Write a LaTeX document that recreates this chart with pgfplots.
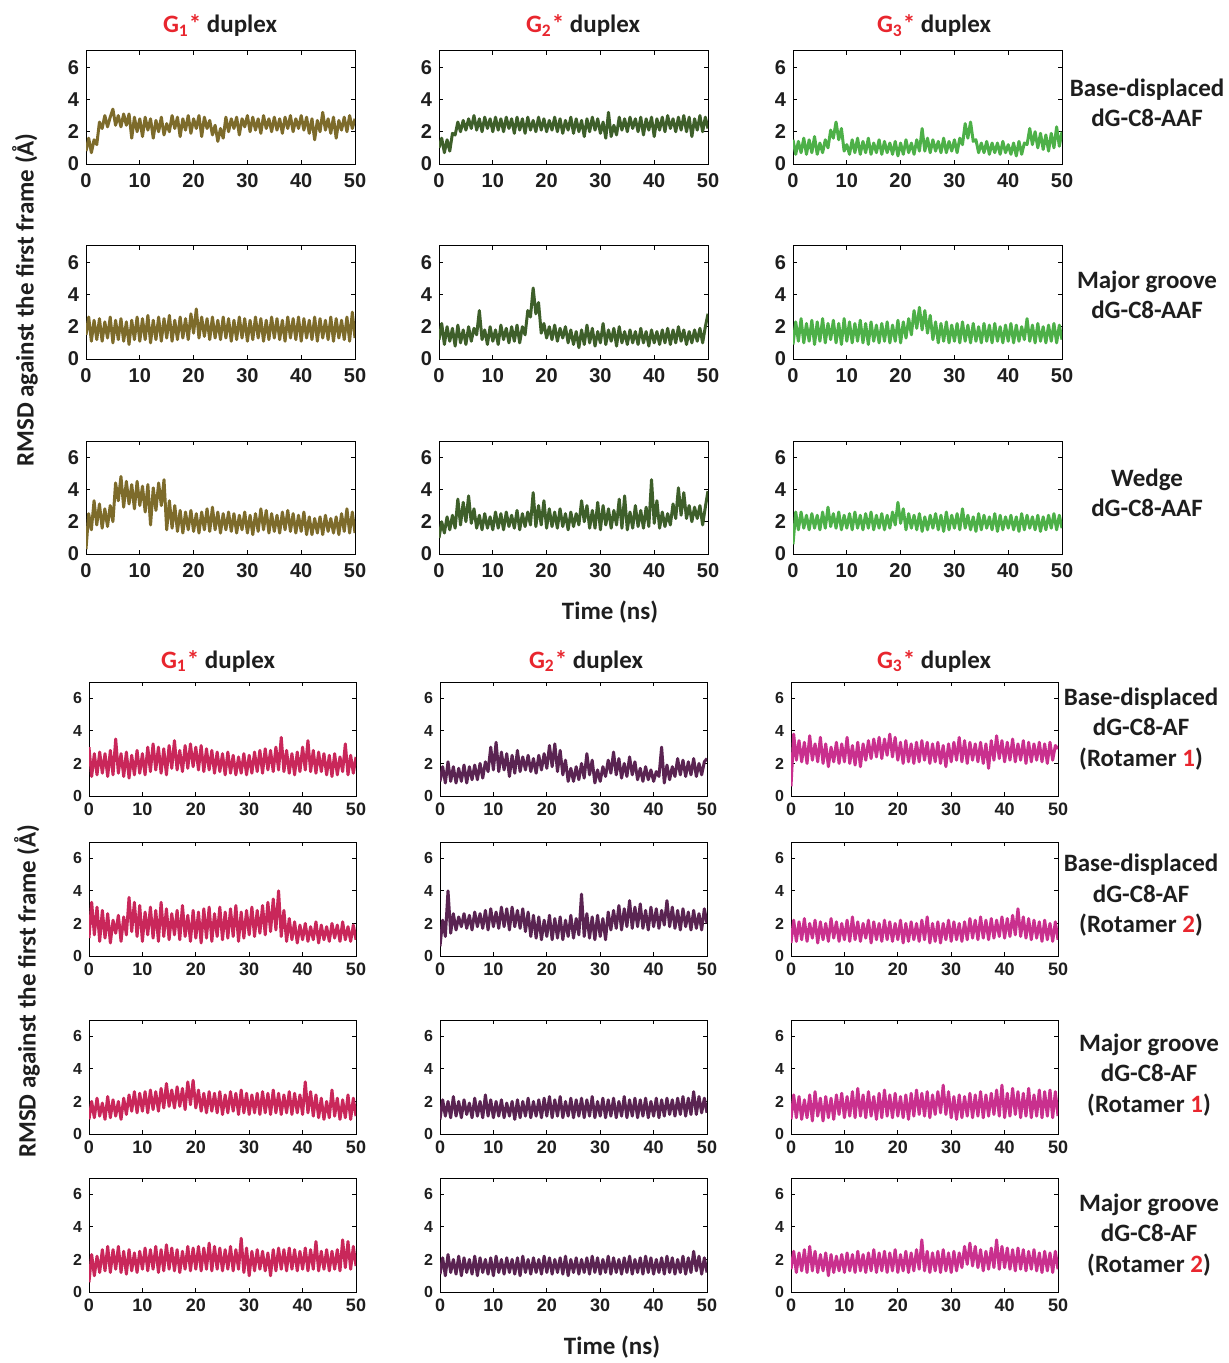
\documentclass[border=0pt]{standalone}
\usepackage{pgfplots}
\pgfplotsset{compat=1.18}
\usepackage{pgfplotstable}
\usepackage{fontspec}
\setmainfont{Carlito}
\newfontfamily\tickfont{Liberation Sans}
\definecolor{colA}{RGB}{125,107,43}
\definecolor{colB}{RGB}{62,95,42}
\definecolor{colC}{RGB}{77,176,72}
\definecolor{colD}{RGB}{201,39,90}
\definecolor{colE}{RGB}{90,36,82}
\definecolor{colF}{RGB}{201,48,142}
\definecolor{gred}{RGB}{232,38,46}
\definecolor{txt}{RGB}{30,30,30}

% ---- data (RMSD, one value every 0.5 ns from 0 to 50 ns) ----
\pgfplotstableread[header=false,row sep=\\]{0.8\\1.6\\0.7\\1.5\\1.2\\2.6\\2.2\\3.0\\2.3\\2.9\\3.4\\2.4\\3.0\\2.3\\3.1\\2.4\\3.1\\1.6\\2.9\\2.0\\2.8\\1.7\\2.9\\2.1\\2.8\\1.6\\2.7\\2.0\\2.9\\1.8\\2.5\\2.0\\3.0\\2.2\\2.9\\1.7\\2.8\\2.1\\3.0\\1.9\\2.8\\2.2\\3.0\\1.7\\2.9\\2.2\\2.7\\1.8\\2.4\\1.4\\2.2\\1.6\\2.9\\2.0\\2.8\\2.2\\2.9\\1.8\\2.8\\2.3\\3.0\\2.0\\2.9\\2.1\\2.8\\1.9\\3.0\\2.2\\2.8\\2.0\\2.9\\2.1\\2.8\\1.9\\2.9\\2.2\\3.0\\2.0\\2.8\\2.2\\3.0\\2.1\\2.9\\1.9\\2.8\\1.5\\2.7\\2.0\\3.2\\2.1\\2.8\\1.9\\2.9\\1.6\\2.7\\2.1\\2.9\\2.0\\3.0\\2.2\\2.8\\}\TA
\pgfplotstableread[header=false,row sep=\\]{1.0\\1.6\\0.7\\1.5\\0.8\\1.9\\1.8\\2.6\\2.0\\2.7\\2.1\\2.8\\2.2\\3.0\\2.1\\2.8\\2.0\\2.9\\2.2\\2.8\\2.0\\2.9\\2.1\\2.8\\2.0\\2.9\\2.2\\2.8\\1.9\\2.9\\2.1\\2.8\\1.9\\2.9\\2.1\\2.7\\2.0\\2.9\\2.1\\2.8\\2.0\\2.7\\2.1\\2.9\\2.0\\2.8\\1.9\\2.7\\2.1\\2.9\\1.9\\2.8\\2.0\\2.7\\1.7\\2.8\\2.0\\2.9\\2.1\\2.8\\1.9\\2.6\\1.6\\3.2\\1.7\\2.4\\1.8\\2.9\\2.1\\2.8\\2.0\\2.9\\2.2\\2.8\\2.0\\2.9\\1.8\\2.8\\2.1\\2.9\\1.7\\2.8\\2.1\\2.9\\2.0\\3.0\\2.2\\2.8\\2.0\\2.9\\2.1\\3.0\\2.0\\2.9\\1.7\\2.8\\2.1\\3.0\\2.0\\2.9\\2.2\\}\TB
\pgfplotstableread[header=false,row sep=\\]{1.5\\0.6\\1.4\\0.7\\1.6\\0.6\\1.5\\0.7\\1.7\\0.6\\1.3\\0.7\\1.5\\1.0\\2.1\\1.6\\2.6\\1.5\\2.2\\0.8\\1.2\\0.6\\1.5\\0.7\\1.6\\0.6\\1.4\\0.7\\1.6\\0.6\\1.3\\0.7\\1.5\\0.6\\1.4\\0.7\\1.3\\0.6\\1.4\\0.5\\1.3\\0.6\\1.5\\0.7\\1.3\\0.6\\1.5\\0.8\\2.2\\0.8\\1.6\\0.7\\1.5\\0.8\\1.4\\0.7\\1.6\\0.7\\1.4\\0.8\\1.5\\0.7\\1.6\\1.2\\2.5\\1.6\\2.6\\1.4\\1.5\\0.7\\1.3\\0.7\\1.4\\0.6\\1.3\\0.7\\1.3\\0.6\\1.4\\0.7\\1.2\\0.6\\1.3\\0.5\\1.4\\0.6\\1.3\\1.2\\2.2\\1.2\\2.0\\1.0\\1.9\\0.9\\1.8\\0.8\\1.9\\1.0\\2.3\\1.1\\2.0\\}\TC
\pgfplotstableread[header=false,row sep=\\]{1.5\\2.6\\1.1\\2.4\\1.2\\2.5\\1.1\\2.3\\1.3\\2.6\\1.0\\2.4\\1.2\\2.5\\1.1\\2.3\\0.9\\2.4\\1.2\\2.6\\1.1\\2.5\\1.2\\2.7\\1.0\\2.4\\1.2\\2.6\\1.1\\2.5\\1.3\\2.7\\1.1\\2.4\\1.2\\2.6\\1.3\\2.5\\1.2\\2.8\\1.6\\3.1\\1.3\\2.6\\1.4\\2.5\\1.2\\2.6\\1.3\\2.4\\1.2\\2.6\\1.3\\2.5\\1.1\\2.4\\1.2\\2.6\\1.3\\2.5\\1.1\\2.4\\1.2\\2.6\\1.3\\2.5\\1.1\\2.4\\1.2\\2.6\\1.3\\2.5\\1.2\\2.4\\1.1\\2.6\\1.3\\2.5\\1.2\\2.6\\1.1\\2.5\\1.3\\2.4\\1.2\\2.6\\1.1\\2.5\\1.3\\2.4\\1.2\\2.6\\1.1\\2.5\\1.3\\2.4\\1.2\\2.6\\1.1\\2.9\\1.3\\}\TD
\pgfplotstableread[header=false,row sep=\\]{1.2\\2.2\\0.9\\2.0\\1.1\\1.9\\0.8\\2.1\\1.0\\1.8\\0.9\\2.0\\1.1\\1.9\\1.5\\3.0\\1.2\\1.8\\0.9\\2.0\\1.1\\1.8\\0.9\\2.1\\1.2\\1.9\\1.0\\2.0\\1.1\\2.1\\1.0\\2.0\\1.5\\3.0\\2.6\\4.4\\2.8\\3.5\\1.6\\2.2\\1.3\\2.0\\1.2\\2.1\\1.1\\1.9\\1.3\\2.0\\1.0\\1.8\\0.9\\1.7\\0.7\\1.8\\0.9\\2.1\\1.0\\1.9\\0.8\\1.7\\1.0\\2.2\\0.9\\1.8\\1.1\\1.9\\0.8\\2.0\\1.0\\1.7\\0.9\\1.8\\1.0\\1.7\\0.9\\1.9\\1.0\\1.7\\0.8\\1.8\\1.0\\1.7\\0.9\\1.8\\1.0\\1.9\\0.9\\1.8\\1.0\\2.0\\1.1\\1.8\\0.9\\1.7\\1.0\\1.8\\1.1\\1.9\\1.0\\2.0\\2.8\\}\TE
\pgfplotstableread[header=false,row sep=\\]{0.9\\2.3\\1.1\\2.5\\1.0\\2.2\\1.1\\2.4\\0.9\\2.3\\1.1\\2.5\\1.0\\2.2\\1.2\\2.4\\1.0\\2.2\\0.9\\2.5\\1.1\\2.3\\1.0\\2.2\\1.1\\2.4\\1.0\\2.2\\0.9\\2.3\\1.1\\2.1\\1.0\\2.2\\1.1\\2.3\\1.0\\2.1\\1.1\\2.4\\1.0\\2.3\\1.3\\2.5\\1.5\\3.0\\1.9\\3.2\\1.8\\3.0\\1.6\\2.7\\1.2\\2.3\\1.0\\2.2\\1.1\\2.3\\1.0\\2.1\\1.1\\2.2\\1.0\\2.3\\1.1\\2.1\\1.0\\2.2\\1.1\\2.0\\1.0\\2.2\\1.1\\2.1\\1.0\\2.2\\1.1\\2.0\\1.0\\2.1\\1.1\\2.2\\1.0\\2.1\\1.1\\2.0\\1.2\\2.5\\1.1\\2.1\\1.0\\2.2\\1.1\\2.0\\1.0\\2.1\\1.1\\2.2\\1.0\\2.1\\1.2\\}\TF
\pgfplotstableread[header=false,row sep=\\]{0.3\\2.5\\1.5\\3.3\\1.8\\3.1\\1.6\\2.8\\1.7\\3.0\\2.0\\4.4\\3.3\\4.8\\2.9\\4.5\\3.1\\4.3\\2.8\\4.5\\3.0\\4.2\\2.6\\4.3\\1.8\\4.1\\2.7\\4.4\\3.0\\4.6\\1.5\\3.3\\1.6\\3.0\\1.4\\2.7\\1.3\\2.6\\1.5\\2.7\\1.4\\2.5\\1.3\\2.6\\1.5\\2.8\\1.4\\2.9\\1.5\\2.6\\1.3\\2.5\\1.5\\2.6\\1.4\\2.5\\1.3\\2.4\\1.5\\2.6\\1.3\\2.4\\1.2\\2.5\\1.4\\2.8\\1.5\\2.7\\1.3\\2.5\\1.4\\2.4\\1.3\\2.6\\1.5\\2.7\\1.4\\2.5\\1.3\\2.4\\1.4\\2.6\\1.2\\2.3\\1.2\\2.2\\1.3\\2.3\\1.2\\2.4\\1.4\\2.2\\1.3\\2.3\\1.2\\2.5\\1.4\\2.8\\1.3\\2.6\\1.3\\}\TG
\pgfplotstableread[header=false,row sep=\\]{1.0\\2.0\\1.3\\2.3\\1.5\\2.4\\1.6\\3.4\\1.8\\3.2\\2.0\\3.6\\1.9\\2.8\\1.6\\2.4\\1.5\\2.5\\1.6\\2.3\\1.5\\2.6\\1.6\\2.5\\1.5\\2.6\\1.7\\2.4\\1.6\\2.7\\1.5\\2.5\\1.7\\2.6\\1.8\\3.8\\1.7\\3.0\\1.8\\3.3\\1.6\\2.8\\1.7\\2.6\\1.6\\2.8\\1.7\\2.5\\1.5\\2.6\\1.7\\2.5\\1.8\\3.3\\2.0\\3.0\\1.6\\2.7\\1.6\\3.2\\1.5\\3.0\\1.8\\2.8\\1.6\\2.7\\1.8\\3.4\\1.6\\3.6\\1.5\\2.6\\1.6\\3.0\\1.7\\2.7\\1.6\\2.9\\1.7\\4.6\\1.9\\3.3\\1.6\\2.6\\1.7\\2.5\\1.8\\3.1\\2.2\\4.1\\2.4\\3.8\\2.2\\3.0\\2.0\\2.9\\2.2\\3.0\\1.8\\2.9\\3.9\\}\TH
\pgfplotstableread[header=false,row sep=\\]{0.6\\2.6\\1.5\\2.6\\1.6\\2.4\\1.5\\2.5\\1.6\\2.4\\1.5\\2.6\\1.6\\2.9\\1.7\\2.5\\1.6\\2.6\\1.5\\2.4\\1.6\\2.5\\1.5\\2.6\\1.6\\2.4\\1.5\\2.5\\1.6\\2.6\\1.5\\2.4\\1.6\\2.5\\1.5\\2.4\\1.6\\2.6\\1.8\\3.2\\1.9\\2.8\\1.5\\2.5\\1.6\\2.4\\1.5\\2.5\\1.4\\2.3\\1.5\\2.4\\1.6\\2.5\\1.5\\2.4\\1.4\\2.6\\1.5\\2.4\\1.6\\2.5\\1.5\\2.8\\1.6\\2.4\\1.5\\2.3\\1.4\\2.5\\1.5\\2.4\\1.6\\2.3\\1.5\\2.5\\1.4\\2.4\\1.5\\2.3\\1.6\\2.4\\1.5\\2.3\\1.4\\2.5\\1.5\\2.4\\1.6\\2.3\\1.5\\2.4\\1.4\\2.3\\1.5\\2.4\\1.6\\2.5\\1.5\\2.4\\1.6\\}\TI
\pgfplotstableread[header=false,row sep=\\]{3.0\\1.2\\2.6\\1.3\\2.7\\1.4\\2.6\\1.2\\2.8\\1.3\\3.5\\1.4\\2.6\\1.2\\2.7\\1.1\\2.5\\1.3\\2.8\\1.4\\2.6\\1.3\\3.0\\1.5\\3.2\\1.6\\3.0\\1.4\\2.9\\1.3\\3.1\\1.7\\3.4\\1.6\\2.8\\1.5\\3.1\\1.7\\3.2\\1.8\\3.0\\1.6\\3.1\\1.5\\2.9\\1.6\\2.8\\1.4\\2.7\\1.5\\2.6\\1.3\\2.7\\1.4\\2.5\\1.3\\2.4\\1.4\\2.6\\1.3\\2.5\\1.4\\2.7\\1.5\\2.8\\1.4\\2.9\\1.6\\2.8\\1.5\\3.0\\1.6\\3.6\\1.5\\2.8\\1.4\\2.6\\1.3\\2.7\\1.5\\3.0\\1.6\\3.4\\1.5\\2.8\\1.4\\2.7\\1.5\\2.6\\1.3\\2.5\\1.2\\2.6\\1.3\\2.4\\1.5\\3.2\\1.3\\2.5\\1.4\\2.4\\}\BA
\pgfplotstableread[header=false,row sep=\\]{0.9\\1.8\\0.8\\2.1\\0.9\\1.8\\0.8\\1.7\\0.9\\1.9\\0.8\\1.8\\1.0\\1.9\\1.0\\2.0\\1.1\\2.1\\1.5\\3.0\\1.6\\3.3\\1.5\\2.7\\1.6\\2.6\\1.2\\2.5\\1.4\\2.8\\1.5\\2.4\\1.6\\2.5\\1.5\\2.3\\1.4\\2.5\\1.6\\2.6\\1.7\\3.1\\1.8\\3.2\\1.5\\2.8\\1.3\\2.2\\0.9\\1.7\\0.9\\1.8\\1.0\\2.0\\1.1\\2.6\\1.3\\2.2\\0.8\\1.6\\0.9\\1.8\\1.2\\2.2\\1.4\\2.7\\1.3\\2.3\\1.1\\2.0\\1.2\\2.4\\1.3\\2.1\\1.0\\1.7\\0.9\\1.8\\1.0\\1.6\\0.9\\1.5\\1.2\\3.0\\0.8\\1.9\\1.0\\1.8\\1.2\\2.3\\1.3\\2.2\\1.2\\2.1\\1.3\\2.3\\1.2\\2.0\\1.3\\2.1\\2.3\\}\BB
\pgfplotstableread[header=false,row sep=\\]{0.6\\3.8\\2.2\\3.4\\2.1\\3.3\\2.0\\3.7\\2.2\\3.2\\2.1\\3.6\\2.0\\3.2\\1.8\\3.0\\2.1\\3.3\\2.0\\3.2\\2.1\\3.6\\2.0\\3.1\\1.9\\3.3\\1.8\\3.2\\2.2\\3.4\\2.3\\3.5\\2.4\\3.6\\2.3\\3.5\\2.5\\3.8\\2.4\\3.6\\2.2\\3.3\\2.0\\3.4\\2.1\\3.2\\2.0\\3.3\\2.1\\3.4\\2.2\\3.3\\2.0\\3.2\\2.1\\3.3\\2.0\\3.1\\1.8\\3.2\\2.1\\3.3\\2.2\\3.6\\2.1\\3.4\\2.0\\3.3\\2.2\\3.2\\2.1\\3.3\\2.0\\3.2\\1.7\\3.4\\2.2\\3.7\\2.3\\3.4\\2.1\\3.3\\2.2\\3.5\\2.1\\3.2\\2.2\\3.4\\2.0\\3.3\\2.1\\3.2\\2.2\\3.3\\2.1\\3.2\\2.0\\3.3\\2.2\\3.1\\2.9\\}\BC
\pgfplotstableread[header=false,row sep=\\]{1.1\\3.3\\1.3\\3.0\\0.9\\2.8\\1.1\\2.6\\0.8\\2.2\\1.4\\2.5\\0.9\\2.4\\1.3\\3.6\\1.5\\3.3\\1.2\\3.1\\0.9\\2.7\\1.3\\3.0\\1.1\\2.8\\0.9\\3.3\\1.2\\2.9\\1.0\\2.6\\1.3\\2.8\\1.0\\3.1\\1.2\\2.5\\0.9\\2.8\\1.1\\2.7\\0.8\\2.9\\1.1\\3.0\\0.9\\2.6\\1.2\\3.0\\1.0\\2.7\\1.1\\2.9\\1.2\\3.1\\0.9\\2.7\\1.1\\2.8\\1.3\\3.0\\1.2\\2.8\\1.4\\3.1\\1.3\\3.3\\1.5\\3.5\\1.6\\4.0\\1.2\\2.8\\0.9\\2.3\\1.0\\2.1\\0.8\\1.9\\1.0\\2.0\\0.9\\1.8\\1.0\\2.1\\0.8\\1.9\\1.0\\1.8\\0.9\\2.0\\1.1\\1.9\\0.9\\2.1\\1.0\\1.8\\0.9\\1.9\\1.0\\}\BD
\pgfplotstableread[header=false,row sep=\\]{0.6\\2.2\\1.2\\4.0\\1.4\\2.6\\1.6\\2.4\\1.8\\2.6\\1.7\\2.5\\1.6\\2.7\\1.8\\2.6\\1.7\\2.8\\1.6\\2.9\\1.8\\2.7\\1.7\\3.0\\1.8\\2.9\\1.6\\3.0\\1.8\\2.8\\1.7\\2.9\\1.5\\2.7\\1.2\\2.5\\1.1\\2.4\\1.0\\2.2\\1.2\\2.5\\1.0\\2.3\\1.1\\2.4\\1.0\\2.2\\1.2\\2.5\\1.1\\2.3\\1.3\\3.8\\1.2\\2.6\\1.1\\2.4\\1.0\\2.5\\1.2\\2.3\\1.0\\2.7\\1.6\\2.8\\1.7\\3.1\\1.6\\2.9\\1.8\\3.4\\1.7\\3.0\\1.8\\3.2\\1.7\\2.8\\1.6\\3.0\\1.8\\2.9\\1.7\\2.8\\1.9\\3.4\\1.8\\3.0\\1.7\\2.8\\1.6\\2.9\\1.8\\2.7\\1.6\\2.8\\1.7\\2.6\\1.6\\2.9\\2.0\\}\BE
\pgfplotstableread[header=false,row sep=\\]{0.8\\2.2\\0.9\\2.1\\1.0\\2.3\\0.9\\2.0\\1.1\\2.2\\0.8\\2.1\\1.0\\2.0\\0.9\\2.3\\1.1\\2.1\\0.9\\2.0\\1.0\\2.2\\0.9\\2.4\\1.0\\2.1\\0.9\\2.0\\1.1\\2.2\\0.8\\2.1\\1.0\\2.0\\0.9\\2.2\\1.0\\2.1\\0.9\\2.0\\1.0\\2.2\\0.8\\2.0\\0.9\\2.1\\1.0\\2.0\\0.9\\2.2\\1.0\\2.4\\0.8\\2.0\\0.9\\2.1\\0.8\\2.0\\1.0\\2.2\\0.9\\2.1\\1.0\\2.0\\0.9\\2.1\\1.0\\2.3\\1.1\\2.2\\1.0\\2.4\\1.1\\2.2\\1.0\\2.3\\1.1\\2.2\\1.2\\2.4\\1.1\\2.3\\1.2\\2.5\\1.3\\2.9\\1.2\\2.4\\1.1\\2.3\\1.0\\2.2\\1.1\\2.1\\0.9\\2.2\\1.0\\2.0\\0.9\\2.1\\1.0\\}\BF
\pgfplotstableread[header=false,row sep=\\]{0.9\\2.0\\1.0\\2.2\\1.1\\1.9\\0.9\\2.3\\1.0\\2.1\\1.1\\2.0\\0.9\\2.2\\1.2\\2.4\\1.4\\2.6\\1.3\\2.5\\1.4\\2.6\\1.3\\2.7\\1.5\\2.6\\1.4\\2.8\\1.6\\3.1\\1.7\\2.7\\1.6\\2.9\\1.7\\2.8\\1.5\\3.2\\1.8\\3.3\\1.6\\2.7\\1.4\\2.5\\1.3\\2.6\\1.4\\2.5\\1.3\\2.6\\1.2\\2.4\\1.3\\2.6\\1.4\\2.5\\1.2\\2.7\\1.3\\2.5\\1.2\\2.4\\1.3\\2.5\\1.2\\2.6\\1.3\\2.5\\1.2\\2.7\\1.3\\2.5\\1.2\\2.4\\1.3\\2.6\\1.2\\2.5\\1.3\\2.4\\1.2\\3.2\\1.3\\2.6\\1.1\\2.4\\1.0\\2.2\\0.9\\2.0\\1.0\\2.7\\1.1\\2.2\\0.9\\2.1\\1.0\\2.4\\0.9\\2.2\\1.1\\}\BG
\pgfplotstableread[header=false,row sep=\\]{0.9\\2.1\\1.1\\2.0\\1.0\\2.3\\1.1\\2.0\\1.0\\2.1\\1.2\\1.9\\1.0\\2.2\\1.1\\2.0\\1.0\\2.4\\1.1\\2.1\\1.0\\2.0\\1.1\\2.1\\1.0\\1.9\\1.1\\2.0\\0.9\\2.1\\1.0\\2.0\\1.1\\2.2\\1.0\\2.0\\1.1\\2.1\\1.0\\2.2\\1.1\\2.3\\1.0\\2.1\\1.1\\2.3\\1.0\\2.0\\1.1\\2.2\\1.0\\2.1\\1.1\\2.2\\1.0\\2.1\\1.1\\2.3\\1.0\\2.0\\1.1\\2.2\\1.0\\2.1\\1.1\\2.2\\1.0\\2.0\\1.1\\2.3\\1.0\\2.1\\1.1\\2.2\\1.0\\2.1\\1.1\\2.2\\1.0\\2.0\\1.1\\2.2\\1.0\\2.1\\1.1\\2.2\\1.2\\2.1\\1.1\\2.2\\1.2\\2.3\\1.1\\2.2\\1.2\\2.6\\1.2\\2.3\\1.3\\2.2\\1.3\\}\BH
\pgfplotstableread[header=false,row sep=\\]{0.9\\2.4\\1.0\\2.3\\0.9\\2.1\\1.0\\2.4\\0.8\\2.6\\1.1\\2.2\\0.8\\2.3\\1.0\\2.2\\0.9\\2.4\\1.2\\2.5\\1.0\\2.3\\1.1\\2.6\\1.0\\2.8\\1.1\\2.4\\1.0\\2.6\\1.1\\2.3\\0.9\\2.5\\1.0\\2.7\\1.1\\2.4\\1.0\\2.5\\1.1\\2.3\\1.0\\2.4\\0.9\\2.5\\1.1\\2.7\\1.2\\2.5\\1.1\\2.6\\1.0\\2.4\\1.2\\2.6\\1.3\\3.0\\1.2\\2.6\\1.0\\2.3\\0.9\\2.4\\1.0\\2.3\\1.1\\2.5\\1.0\\2.4\\1.1\\2.6\\1.0\\2.4\\1.1\\2.5\\1.2\\2.7\\1.1\\3.0\\1.0\\2.5\\1.1\\2.8\\1.2\\2.6\\1.0\\2.5\\1.1\\2.8\\1.0\\2.4\\1.1\\2.7\\1.0\\2.6\\1.1\\2.7\\1.0\\2.6\\1.1\\}\BI
\pgfplotstableread[header=false,row sep=\\]{0.6\\2.3\\1.0\\2.2\\1.2\\2.6\\1.3\\2.8\\1.2\\2.6\\1.4\\2.8\\1.2\\2.5\\1.1\\2.6\\1.3\\2.4\\1.2\\2.5\\1.4\\2.7\\1.3\\2.6\\1.4\\2.8\\1.2\\2.6\\1.3\\2.9\\1.4\\2.7\\1.3\\2.6\\1.2\\2.5\\1.4\\2.8\\1.3\\2.7\\1.4\\2.8\\1.3\\2.7\\1.4\\3.0\\1.3\\2.8\\1.4\\2.7\\1.3\\2.6\\1.4\\2.8\\1.3\\2.6\\1.4\\3.3\\1.2\\2.7\\1.0\\2.5\\1.3\\2.6\\1.4\\2.5\\1.3\\2.4\\1.0\\2.6\\1.3\\2.7\\1.4\\2.6\\1.3\\2.7\\1.4\\2.6\\1.3\\2.5\\1.4\\2.7\\1.3\\2.6\\1.4\\3.1\\1.3\\2.5\\1.4\\2.6\\1.3\\2.5\\1.4\\2.6\\1.3\\3.2\\1.5\\3.1\\1.4\\2.8\\1.6\\}\BJ
\pgfplotstableread[header=false,row sep=\\]{1.1\\2.1\\1.0\\2.3\\1.2\\2.0\\1.1\\2.2\\1.0\\2.1\\1.2\\2.0\\1.1\\2.2\\1.0\\2.1\\1.2\\2.0\\1.1\\2.1\\1.0\\2.2\\1.2\\2.0\\1.1\\2.1\\1.2\\2.0\\1.1\\2.1\\1.0\\2.2\\1.2\\2.0\\1.1\\2.1\\1.2\\2.0\\1.1\\2.2\\1.2\\2.1\\1.1\\2.0\\1.2\\2.1\\1.1\\2.2\\1.0\\2.0\\1.2\\2.1\\1.1\\2.0\\1.2\\2.1\\1.1\\2.2\\1.2\\2.1\\1.1\\2.0\\1.2\\2.2\\1.1\\2.1\\1.2\\2.0\\1.1\\2.1\\1.2\\2.2\\1.1\\2.0\\1.2\\2.1\\1.1\\2.2\\1.2\\2.1\\1.1\\2.0\\1.2\\2.1\\1.1\\2.2\\1.2\\2.1\\1.1\\2.0\\1.2\\2.2\\1.1\\2.1\\1.2\\2.5\\1.3\\2.2\\1.1\\2.1\\1.2\\}\BK
\pgfplotstableread[header=false,row sep=\\]{1.4\\2.5\\1.2\\2.4\\1.3\\2.6\\1.2\\2.8\\1.3\\2.5\\1.2\\2.3\\1.3\\2.4\\1.0\\2.3\\1.2\\2.2\\1.3\\2.3\\1.2\\2.4\\1.3\\2.3\\1.2\\2.5\\1.3\\2.3\\1.2\\2.4\\1.3\\2.6\\1.2\\2.4\\1.3\\2.5\\1.2\\2.4\\1.3\\2.6\\1.2\\2.3\\1.3\\2.5\\1.2\\2.4\\1.3\\2.6\\1.4\\3.2\\1.3\\2.5\\1.2\\2.4\\1.3\\2.5\\1.2\\2.6\\1.3\\2.4\\1.2\\2.5\\1.3\\2.4\\1.5\\2.8\\1.7\\3.0\\1.6\\2.8\\1.5\\2.6\\1.3\\2.5\\1.4\\2.7\\1.5\\3.2\\1.4\\2.8\\1.5\\2.7\\1.4\\2.6\\1.3\\2.7\\1.4\\2.6\\1.3\\2.5\\1.4\\2.6\\1.3\\2.4\\1.2\\2.5\\1.3\\2.4\\1.2\\2.5\\1.4\\}\BL

\pgfplotsset{
  base/.style={scale only axis, anchor=north west,
    xmin=0, xmax=50, ymin=0, ymax=7,
    xtick={0,10,20,30,40,50}, ytick={0,2,4,6},
    axis line style={line width=0.5pt, black},
    tick style={line width=0.5pt, black},
    major tick length=1.8pt,
    /pgf/number format/assume math mode=true},
  topax/.style={base, width=134.5pt, height=56.5pt,
    xticklabel style={font=\tickfont\bfseries\fontsize{10}{12}\selectfont, text=txt, yshift=-1.2pt},
    yticklabel style={font=\tickfont\bfseries\fontsize{10}{12}\selectfont, text=txt}},
  botax/.style={base, width=133.5pt, height=57pt,
    xticklabel style={font=\tickfont\bfseries\fontsize{9}{11}\selectfont, text=txt},
    yticklabel style={font=\tickfont\bfseries\fontsize{8}{10}\selectfont, text=txt}},
}
\newcommand\panel[5]{%
  \begin{axis}[#1, at={(#2pt,-#3pt)}]
    \addplot[line width=1.5pt, color=#4, line join=round] table[x expr=\coordindex*0.5, y index=0] {#5};
  \end{axis}}
\newcommand\lbl{\fontsize{12.5}{15}\selectfont\bfseries\color{txt}}
\newcommand\gt[1]{\textcolor{gred}{G\textsubscript{#1}*} duplex}

\begin{document}
\begin{tikzpicture}
\useasboundingbox (0,0) rectangle (614pt,-681.5pt);
% ---- top block: dG-C8-AAF ----
\panel{topax}{43}{25.5}{colA}{\TA}
\panel{topax}{219.5}{25.5}{colB}{\TB}
\panel{topax}{396.5}{25.5}{colC}{\TC}
\panel{topax}{43}{123}{colA}{\TD}
\panel{topax}{219.5}{123}{colB}{\TE}
\panel{topax}{396.5}{123}{colC}{\TF}
\panel{topax}{43}{220.5}{colA}{\TG}
\panel{topax}{219.5}{220.5}{colB}{\TH}
\panel{topax}{396.5}{220.5}{colC}{\TI}
% ---- bottom block: dG-C8-AF ----
\panel{botax}{44.5}{341}{colD}{\BA}
\panel{botax}{220}{341}{colE}{\BB}
\panel{botax}{395.5}{341}{colF}{\BC}
\panel{botax}{44.5}{421}{colD}{\BD}
\panel{botax}{220}{421}{colE}{\BE}
\panel{botax}{395.5}{421}{colF}{\BF}
\panel{botax}{44.5}{510}{colD}{\BG}
\panel{botax}{220}{510}{colE}{\BH}
\panel{botax}{395.5}{510}{colF}{\BI}
\panel{botax}{44.5}{589}{colD}{\BJ}
\panel{botax}{220}{589}{colE}{\BK}
\panel{botax}{395.5}{589}{colF}{\BL}
% ---- column titles ----
\node[anchor=base, font=\lbl] at (110pt,-16.5pt) {\gt{1}};
\node[anchor=base, font=\lbl] at (291.5pt,-16.5pt) {\gt{2}};
\node[anchor=base, font=\lbl] at (467pt,-16.5pt) {\gt{3}};
\node[anchor=base, font=\lbl] at (109pt,-334pt) {\gt{1}};
\node[anchor=base, font=\lbl] at (293pt,-334pt) {\gt{2}};
\node[anchor=base, font=\lbl] at (467pt,-334pt) {\gt{3}};
% ---- row labels ----
\node[anchor=mid, font=\lbl] at (573.5pt,-46pt) {Base-displaced};
\node[anchor=mid, font=\lbl] at (573.5pt,-61pt) {dG-C8-AAF};
\node[anchor=mid, font=\lbl] at (573.5pt,-142pt) {Major groove};
\node[anchor=mid, font=\lbl] at (573.5pt,-157pt) {dG-C8-AAF};
\node[anchor=mid, font=\lbl] at (573.5pt,-241pt) {Wedge};
\node[anchor=mid, font=\lbl] at (573.5pt,-256pt) {dG-C8-AAF};
\node[anchor=mid, font=\lbl] at (570.5pt,-350.5pt) {Base-displaced};
\node[anchor=mid, font=\lbl] at (570.5pt,-365.5pt) {dG-C8-AF};
\node[anchor=mid, font=\lbl] at (570.5pt,-381pt) {(Rotamer \textcolor{gred}{1})};
\node[anchor=mid, font=\lbl] at (570.5pt,-433.5pt) {Base-displaced};
\node[anchor=mid, font=\lbl] at (570.5pt,-449pt) {dG-C8-AF};
\node[anchor=mid, font=\lbl] at (570.5pt,-464pt) {(Rotamer \textcolor{gred}{2})};
\node[anchor=mid, font=\lbl] at (574.5pt,-523.5pt) {Major groove};
\node[anchor=mid, font=\lbl] at (574.5pt,-538.5pt) {dG-C8-AF};
\node[anchor=mid, font=\lbl] at (574.5pt,-554pt) {(Rotamer \textcolor{gred}{1})};
\node[anchor=mid, font=\lbl] at (574.5pt,-603.5pt) {Major groove};
\node[anchor=mid, font=\lbl] at (574.5pt,-618.5pt) {dG-C8-AF};
\node[anchor=mid, font=\lbl] at (574.5pt,-634pt) {(Rotamer \textcolor{gred}{2})};
% ---- axis titles ----
\node[rotate=90, font=\lbl] at (12.5pt,-150pt) {RMSD against the first frame (Å)};
\node[rotate=90, font=\lbl] at (13.5pt,-495.5pt) {RMSD against the first frame (Å)};
\node[anchor=mid, font=\lbl] at (305pt,-307.5pt) {Time (ns)};
\node[anchor=mid, font=\lbl] at (306pt,-675pt) {Time (ns)};
\end{tikzpicture}
\end{document}
